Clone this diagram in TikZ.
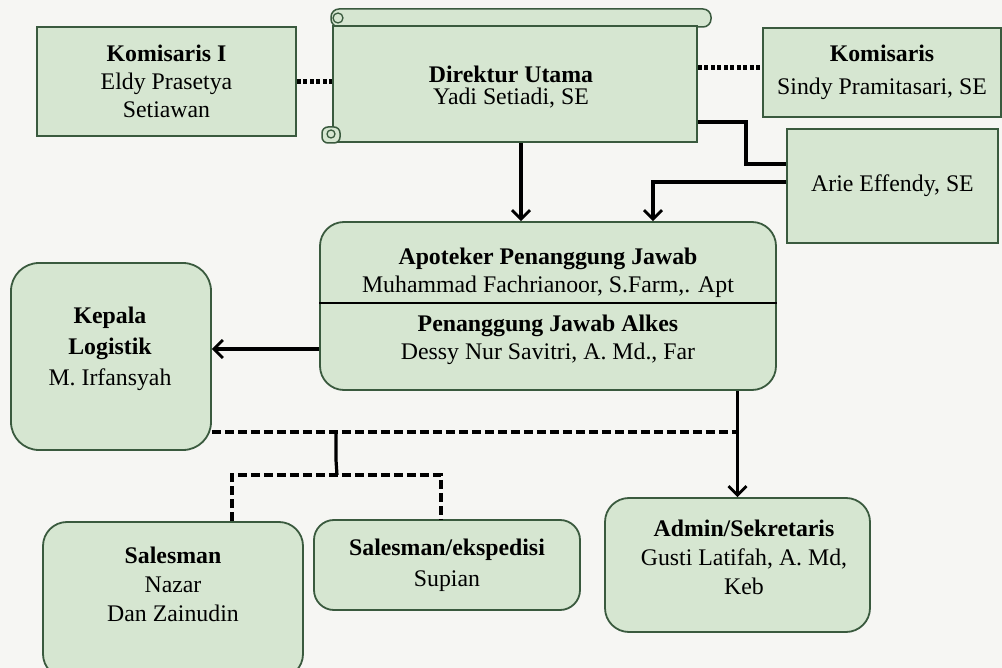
\documentclass[tikz,border=0pt]{standalone}
\usepackage{fontspec}
\setmainfont{Liberation Serif}
\usetikzlibrary{arrows.meta,calc}
\definecolor{boxfill}{HTML}{D6E6D1}
\definecolor{boxline}{HTML}{3A5A3E}
\definecolor{bgc}{HTML}{F6F6F3}
\begin{document}
\begin{tikzpicture}[x=1pt,y=-1pt,
  box/.style={draw=boxline, fill=boxfill, line width=1.8pt, align=center, inner sep=0pt, font=\fontsize{23.8}{28}\selectfont},
  rbox/.style={box, rounded corners=24pt},
  txt/.style={align=center, inner sep=0pt, font=\fontsize{23.8}{29}\selectfont},
  conn/.style={line width=3.2pt, draw=black},
  arr/.style={conn, -{Straight Barb[length=9pt,width=18pt,line width=2.8pt]}},
  dotc/.style={line width=5pt, dash pattern=on 4pt off 2.5pt},
  dashc/.style={line width=3.4pt, dash pattern=on 9pt off 4pt}]
\fill[bgc] (0,0) rectangle (1002,668);
\useasboundingbox (0,0) rectangle (1002,668);

% scroll top bar
\draw[boxline, fill=boxfill, line width=1.5pt, rounded corners=8pt] (331,9) rectangle (711,27);
\draw[boxline, line width=1.3pt] (338,18) circle (5);
% Direktur Utama body
\node[box, minimum width=364pt, minimum height=116pt] (dir) at (515,84) {};
\node[txt, font=\fontsize{23.8}{22}\selectfont] (dirt) at (511,87) {\textbf{Direktur Utama}\\Yadi Setiadi, SE};
\draw[boxline, fill=boxfill, line width=1.5pt, rounded corners=6pt] (322,127) rectangle (340,143);
\draw[boxline, line width=1.3pt] (331,134) circle (4);

% Komisaris I
\node[box, minimum width=259pt, minimum height=109pt] (k1) at (166.5,81.5)
  {\textbf{Komisaris I}\\Eldy Prasetya\\Setiawan};
% Komisaris right
\node[box, minimum width=238pt, minimum height=89pt] (komR) at (882,72.5)
  {\textbf{Komisaris}\\[5pt]Sindy Pramitasari, SE};
% Arie
\node[box, minimum width=211pt, minimum height=114pt] (arie) at (892.5,186) {Arie Effendy, SE};

% Apoteker
\node[rbox, minimum width=456pt, minimum height=168pt] (apt) at (548,306)
  {\textbf{Apoteker Penanggung Jawab}\\Muhammad Fachrianoor, S.Farm,. Apt\\[11pt]
   \textbf{Penanggung Jawab Alkes}\\Dessy Nur Savitri, A. Md., Far};
\draw[line width=1.8pt] ([yshift=3pt]apt.west) -- ([yshift=3pt]apt.east);

% Kepala Logistik
\node[rbox, rounded corners=28pt, minimum width=200pt, minimum height=187pt] (kep) at (111,356.5) {};
\node[txt, font=\fontsize{23.8}{31}\selectfont] (kept) at (110,348.5) {\textbf{Kepala}\\\textbf{Logistik}\\M. Irfansyah};

% Admin
\node[rbox, minimum width=265pt, minimum height=134pt] (adm) at (737.5,565) {};
\node[txt] (admt) at (744,557.5) {\textbf{Admin/Sekretaris}\\Gusti Latifah, A. Md,\\Keb};

% Salesman
\node[rbox, minimum width=260pt, minimum height=156pt] (s1) at (173,600) {};
\node[txt] (s1t) at (173,584) {\textbf{Salesman}\\Nazar\\Dan Zainudin};

% Salesman/ekspedisi
\node[rbox, rounded corners=20pt, minimum width=266pt, minimum height=90pt] (ske) at (447,565)
  {\textbf{Salesman/ekspedisi}\\[3pt]Supian};

% connectors
\draw[dotc] (k1.east) -- (k1.east -| dir.west);
\draw[dotc] ([yshift=5pt]komR.west -| dir.east) -- ([yshift=5pt]komR.west);
\draw[conn, line width=4.8pt] ([yshift=-38pt]dir.east) -- ++(48,0) |- ([yshift=22pt]arie.west);
\draw[arr] ([yshift=4pt]arie.west) -| ([xshift=105pt]apt.north);
\draw[arr] ([xshift=6pt]dir.south) -- ([xshift=6pt]dir.south |- apt.north);
\draw[arr] ([yshift=-43pt]apt.west) -- ([yshift=-43pt]apt.west -| kep.east);
\draw[arr] (apt.south -| adm.north) -- (adm.north);

\coordinate (dl) at ([yshift=-75.5pt]kep.east);
\coordinate (dr) at (dl -| adm.north);
\draw[dashc] (dl) -- (dr);
\coordinate (bj) at (337,475);
\coordinate (bk) at (336,433);
\draw[conn] (bk) -- ++(0,27) -- (bj);
\draw[dashc] ([xshift=59pt]s1.north) |- (bj) -| ([xshift=-6pt]ske.north);
\end{tikzpicture}
\end{document}
